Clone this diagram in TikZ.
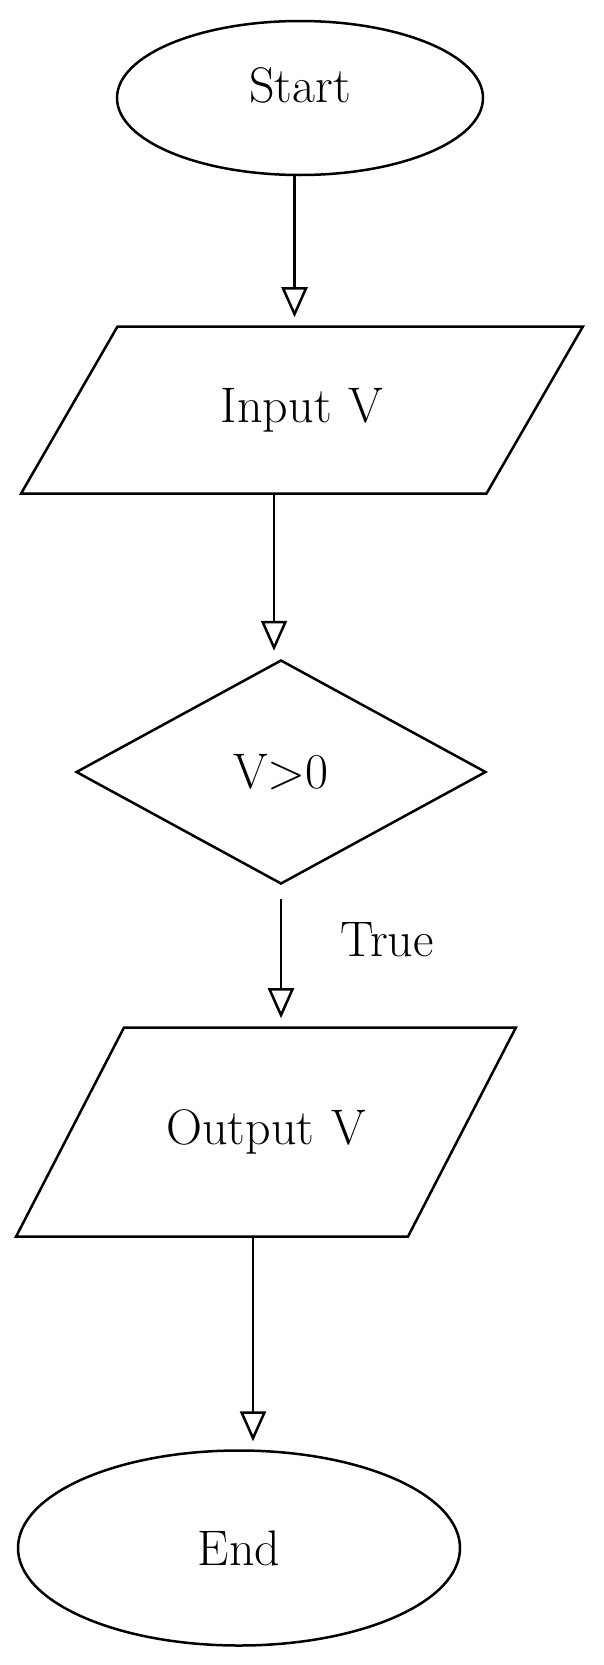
\documentclass[tikz,border=0pt]{standalone}
\usepackage{tikz}
\usetikzlibrary{shapes.geometric,arrows.meta}
\tikzset{>={Triangle[open,length=30pt,width=26pt]}}
\tikzset{
  term/.style={draw,ellipse,inner sep=0pt,font=\fontsize{50}{60}\selectfont},
  io/.style={draw,trapezium,inner xsep=0pt,align=center,text height=34pt,text depth=10pt,
    font=\fontsize{50}{60}\selectfont},
  decide/.style={draw,diamond,inner sep=0pt,font=\fontsize{50}{60}\selectfont},
  flow/.style={->,shorten >=8pt}
}

\begin{document}
\begin{tikzpicture}[x=1pt,y=-1pt,line width=2.5pt]
        \useasboundingbox (0,0) rectangle (603,1665);
         
        \node[term,minimum width=366pt,minimum height=154pt,text depth=26pt] (start) at (300,98) {Start};
        \node[io,trapezium left angle=60,trapezium right angle=120,
          text width=369pt,inner ysep=61.5pt] (inp) at (302,410) {Input V};
        \node[decide,minimum width=410pt,minimum height=224pt] (test) at (281,772) {V>0};
        \node[io,trapezium left angle=62.7,trapezium right angle=117.3,
          text width=284pt,inner ysep=82.5pt] (outp) at (266,1132) {Output V};
        \node[term,minimum width=442pt,minimum height=195pt] (fin) at (239,1548) {End};
         
        \draw[flow] (start.266) -- (start.266 |- inp.north);
        \draw[flow] ([xshift=-28pt]inp.south) -- ([xshift=-28pt]inp.south |- test.north);
        \draw[flow,shorten <=14pt] (test.south) -- (test.south |- outp.north);
        \node[font=\fontsize{50}{60}\selectfont] (yes) at (387,940) {True};
        \draw[flow] ([xshift=-13pt]outp.south) -- ([xshift=-13pt]outp.south |- fin.north);
         
\end{tikzpicture}
\end{document}
